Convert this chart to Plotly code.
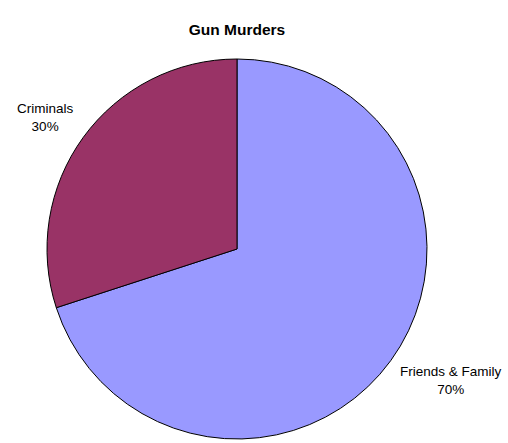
import plotly.graph_objects as go
import math

# datos del gráfico
labels = ['Friends & Family', 'Criminals']
values = [70, 30]
colors = ['#9999FF', '#993366']

W, H = 508, 443
cx, cy, r = 237, 249, 190  # centro y radio del pastel en pixeles

fig = go.Figure(data=[go.Pie(labels=labels, values=values, sort=False,
                             direction='clockwise', rotation=0,
                             marker=dict(colors=colors, line=dict(color='black', width=1)),
                             textinfo='none', hoverinfo='label+percent',
                             domain=dict(x=[(cx - r) / W, (cx + r) / W],
                                         y=[1 - (cy + r) / H, 1 - (cy - r) / H]))])

# etiquetas fuera del pastel, en la dirección del centro de cada porción
total = sum(values)
acc = 0
for lab, v in zip(labels, values):
    mid = (acc + v / 2) / total * 2 * math.pi
    acc += v
    px = cx + 1.05 * r * math.sin(mid)
    py = cy - 1.175 * r * math.cos(mid)
    fig.add_annotation(x=px / W, y=1 - py / H, xref='paper', yref='paper',
                       text=f'{lab}<br>{round(v / total * 100)}%', showarrow=False,
                       align='center',
                       xanchor='left' if math.sin(mid) > 0 else 'right',
                       yanchor='middle',
                       font=dict(family='Liberation Sans, Arial', size=13.5, color='black'))

fig.update_layout(width=W, height=H, margin=dict(l=0, r=0, t=0, b=0),
                  showlegend=False, paper_bgcolor='white',
                  title=dict(text='<b>Gun Murders</b>', x=cx / W, xanchor='center',
                             y=1 - 30 / H, yanchor='middle',
                             font=dict(family='Liberation Sans, Arial', size=15.5, color='black')))

# quitar el margen del body para que la figura empiece en (0,0)
fig.write_html("out.html", config={'displayModeBar': False},
               post_script="document.body.style.margin='0px';")
